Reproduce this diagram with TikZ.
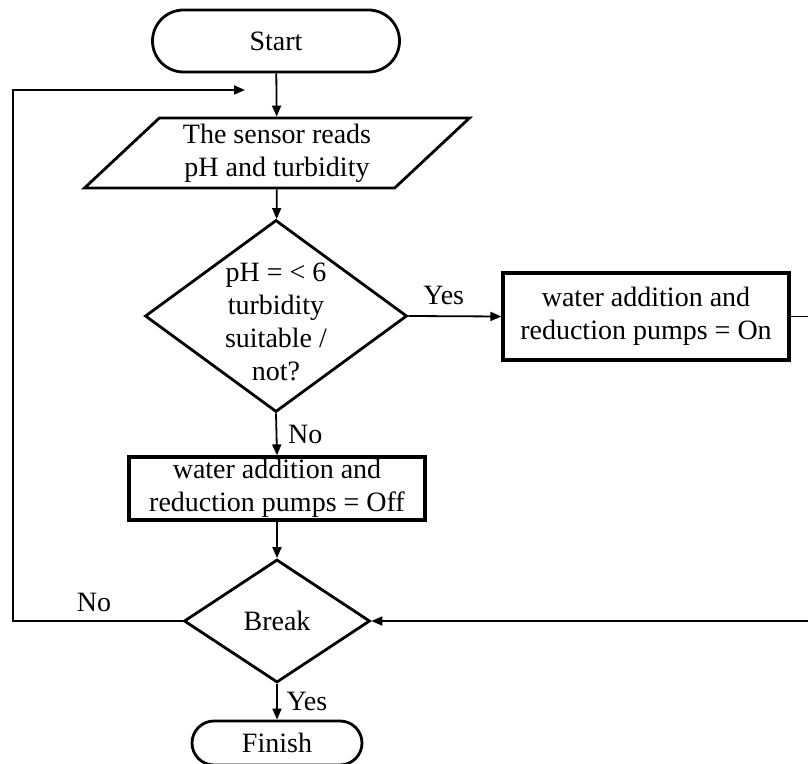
\documentclass[tikz,border=0pt]{standalone}
\usepackage{fontspec}
\setmainfont{Liberation Serif}
\usetikzlibrary{arrows.meta,positioning,shapes.geometric}

\begin{document}
\begin{tikzpicture}[x=0.5pt,y=-0.5pt,
    font=\fontsize{14}{16.5}\selectfont,
    term/.style={draw,line width=1.4pt,rounded corners=#1,align=center,inner sep=0pt},
    io/.style={draw,line width=1.4pt,trapezium,trapezium left angle=38,trapezium right angle=142,
        trapezium stretches body,minimum width=192.5pt,minimum height=35pt,align=center,inner sep=0pt},
    decide/.style={draw,line width=1.4pt,diamond,inner sep=0pt},
    proc/.style={draw,line width=1.6pt,align=center,inner sep=0pt},
    flow/.style={-{Triangle[length=5.5pt,width=4.5pt]},line width=0.9pt}]
  \useasboundingbox (0,0) rectangle (808,764);

  \node[term=15.5pt,minimum width=123.5pt,minimum height=31pt] (start) at (276,41) {Start};
  \node[io] (read) at (277,153) {The sensor reads\\pH and turbidity};
  \node[decide,minimum width=131pt,minimum height=96pt,
        label={[align=center,yshift=-3pt]center:pH = < 6\\turbidity\\suitable /\\not?}] (check) at (276,316) {};
  \node[proc,minimum width=143pt,minimum height=43.5pt] (pon) at (646,316.5) {water addition and\\reduction pumps = On};
  \node[proc,minimum width=148pt,minimum height=31.5pt] (poff) at (277,488.5) {water addition and\\reduction pumps = Off};
  \node[decide,minimum width=93pt,minimum height=61.5pt] (brk) at (277,621) {Break};
  \node[term=11pt,minimum width=85pt,minimum height=22pt] (finish) at (277,743) {Finish};

  \coordinate (back) at (245,90);
  \coordinate (lft) at (13,90);
  \coordinate (rgt) at (812,621);

  \draw[flow] (start) -- (read);
  \draw[flow] (read) -- (check);
  \draw[flow] (check.east) -- node[above=2pt,pos=0.38] {Yes} (pon.west);
  \draw[flow] (check.south) -- node[right=2pt] {No} (poff.north);
  \draw[flow] (poff) -- (brk);
  \draw[flow] (brk.south) -- node[right=1pt] {Yes} (finish.north);
  \draw[flow] (brk.west) -| (lft) -- (back);
  \draw[flow] (pon.east) -| (rgt) -- (brk.east);
  \node (no2) at (94,602) {No};
\end{tikzpicture}
\end{document}
